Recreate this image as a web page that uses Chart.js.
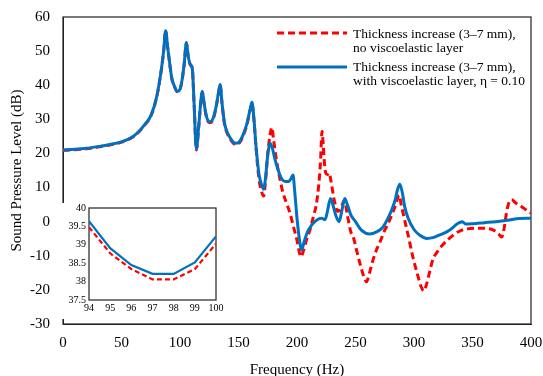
<!DOCTYPE html>
<html><head><meta charset="utf-8">
<script src="https://cdn.jsdelivr.net/npm/chart.js@4.4.0/dist/chart.umd.min.js"></script>
<style>
html,body{margin:0;padding:0;background:#fff;overflow:hidden}
#wrap{position:relative;width:543px;height:376px}
#main{position:absolute;left:0;top:0}
#inset{position:absolute;left:58px;top:203px}
</style></head><body>
<div id="wrap"><canvas id="main" width="543" height="376"></canvas><canvas id="inset" width="168" height="116"></canvas></div>
<script>
// ---- Data ----
const blueFreq = [0,10,20,30,40,50,60,65,70,75,80,84,86,87.7,89.5,91,93,95.5,97.5,99.5,101.5,103.5,105.5,107,109,110.5,112,114,116,118,119,120.5,122.5,125,127,129,131,133,134.3,136,138,140,143,146,148.5,151,154,157,160,161.5,163,165,167.5,170,171.5,173,175,177,179,181,184,187,190,193,195,196.6,198,200,202,204,206,209,213,217,221,224,226,228.6,231,233.5,236,238.5,240.8,243,246,250,255,262,268,273,277,281,284,286,287.9,290,292,295,300,305,311,317,322,328,333,337,341.5,344,350,360,370,380,390,400];
const blueSPL = [21.0,21.2,21.5,22.0,22.6,23.4,25.0,26.5,28.5,31.0,36.5,44.5,50,56.0,51,47,42,39.5,38.2,38.5,41,46,52.5,48.5,46,45,35,21.3,28,36,38.2,35,31,29.3,29.5,31,34,38,40.2,34.5,29,26.5,24.5,23.2,23.0,23.5,25.5,28.5,33,35.0,31,22,14,10.5,9.5,12.5,19.5,23.0,21.5,18.5,15,12.5,11.8,11.8,12.7,13.7,9,1,-5,-8.3,-6,-3,-0.8,0.5,1.0,0.6,3,6.8,4.5,1.5,0.0,3.5,6.8,5,2,0,-2.5,-3.6,-3.0,-1.8,0.5,3.5,6.5,9.5,11.0,8.5,4.5,1.0,-2.3,-4.0,-4.9,-4.6,-3.9,-3.0,-1.8,-0.6,0.0,-0.7,-0.6,-0.3,0.0,0.4,0.9,1.0];

const redFreq = [0,10,20,30,40,50,60,65,70,75,80,84,86,87.7,89.5,91,93,95.5,97.5,99.5,101.5,103.5,105.5,107,109,110.5,112,114,116,118,119,120.5,122.5,125,127,129,131,133,134.3,136,138,140,143,146,148.5,151,154,157,160,161.5,163,165,167.5,170,171.5,173,175,177,178.5,180,182,185,188,191,194,197,200,202,203.5,205.5,208,211,214,216.5,218.5,220,221.4,222.5,223.5,224.5,226,227.5,229,232,235,238,240.5,243,246,248,251,254,257,259.4,262,265,268,271,275,278,281,284,287.3,289,292,295,299,303,306,308.4,311,313.5,316,320,324,329,334,340,348,356,362,368,372,375,377,379,381,383.4,387,392,396,400];
const redSPL = [20.9,21.1,21.4,21.9,22.5,23.3,24.9,26.4,28.4,30.9,36.4,44.4,49.9,55.9,50.9,46.9,41.9,39.4,38.1,38.4,40.9,45.9,52.4,48.4,45.9,44.9,34.9,21.0,27.8,35.9,38.0,34.8,30.8,29.0,29.2,30.8,33.8,37.8,40.0,34.3,28.7,26.2,24.2,22.8,22.6,23.2,25.2,28.2,32.8,34.7,30.5,21.5,12.5,8.5,7.5,11.5,20,25.5,27.6,24,19,13.2,8.5,5.5,2.5,-1.5,-5.5,-9,-10.3,-8.5,-5.5,-2.5,1.5,5,10.5,17,26.5,22,17,14.3,13.8,14.3,12,6,3,4.5,6.2,2,-3,-4.4,-8.5,-12.5,-16,-17.6,-15,-11.2,-8.2,-5.9,-2.5,-0.5,2.0,4.6,7.8,5,0.5,-4,-10.3,-15.5,-19,-20.3,-18,-14.5,-11.2,-8.8,-7.0,-5.3,-3.8,-2.6,-2.0,-1.9,-2.0,-2.5,-3.5,-4.5,-2,2.5,5.5,6.4,5.5,4.4,3.4,2.5];

const insetFreq = [94,95,96,97,98,99,100];
const insetBlue = [39.64,38.91,38.45,38.21,38.21,38.52,39.23];
const insetRed  = [39.48,38.77,38.34,38.06,38.06,38.34,39.03];

const legendRed  = ['Thickness increase (3\u20137 mm),', 'no viscoelastic layer'];
const legendBlue = ['Thickness increase (3\u20137 mm),', 'with viscoelastic layer, \u03b7 = 0.10'];
const xTitle = 'Frequency (Hz)';
const yTitle = 'Sound Pressure Level (dB)';

// ---- Styling ----
const FONT = '"Liberation Serif", "Times New Roman", serif';
const RED = '#FF0000';
const BLUE = '#0070C0';
Chart.defaults.font.family = FONT;
Chart.defaults.color = '#000';

const pts = (xs, ys) => xs.map((x, i) => ({x: x, y: ys[i]}));
const noPad = s => { s.paddingLeft = 0; s.paddingRight = 0; s.paddingTop = 0; s.paddingBottom = 0; };

const whiteBg = {id: 'whiteBg', beforeDraw(c) {
  const ctx = c.ctx; ctx.save(); ctx.fillStyle = '#fff'; ctx.fillRect(0, 0, c.width, c.height); ctx.restore();
}};
const frame = {id: 'frame', beforeDatasetsDraw(c) {
  const a = c.chartArea, ctx = c.ctx;
  ctx.save(); ctx.strokeStyle = '#222'; ctx.lineWidth = 1.2;
  ctx.strokeRect(a.left, a.top, a.right - a.left, a.bottom - a.top);
  ctx.restore();
}};
const legendPlugin = {id: 'customLegend', afterDraw(c) {
  const ctx = c.ctx; ctx.save();
  ctx.lineWidth = 3;
  ctx.strokeStyle = RED; ctx.setLineDash([7, 4]);
  ctx.beginPath(); ctx.moveTo(277, 33); ctx.lineTo(347, 33); ctx.stroke();
  ctx.setLineDash([]); ctx.strokeStyle = BLUE;
  ctx.beginPath(); ctx.moveTo(277, 67); ctx.lineTo(347, 67); ctx.stroke();
  ctx.font = '13.5px ' + FONT; ctx.fillStyle = '#000'; ctx.textBaseline = 'middle'; ctx.textAlign = 'left';
  ctx.fillText(legendRed[0], 353, 34); ctx.fillText(legendRed[1], 353, 48);
  ctx.fillText(legendBlue[0], 353, 67); ctx.fillText(legendBlue[1], 353, 81.5);
  ctx.restore();
}};

new Chart(document.getElementById('main'), {
  type: 'line',
  data: { datasets: [
    { label: legendRed.join(' '), data: pts(redFreq, redSPL), borderColor: RED, borderWidth: 3, borderDash: [7, 4],
      pointRadius: 0, fill: false, cubicInterpolationMode: 'monotone', order: 1 },
    { label: legendBlue.join(' '), data: pts(blueFreq, blueSPL), borderColor: BLUE, borderWidth: 3,
      pointRadius: 0, fill: false, cubicInterpolationMode: 'monotone', order: 0 }
  ]},
  options: {
    responsive: false, animation: false, devicePixelRatio: 1,
    layout: { padding: { left: 0, right: 12, top: 17, bottom: 0 } },
    plugins: { legend: { display: false }, tooltip: { enabled: false } },
    scales: {
      x: { type: 'linear', min: 0, max: 400,
        ticks: { stepSize: 50, padding: 0, font: { size: 15 }, maxRotation: 0 },
        grid: { display: false, drawTicks: true, tickLength: 10 }, border: { display: true, color: '#222' },
        title: { display: true, text: xTitle, font: { size: 15 }, padding: { top: 0, bottom: -3 } },
        afterFit(s) { s.height = 52; noPad(s); } },
      y: { type: 'linear', min: -30, max: 60,
        ticks: { stepSize: 10, padding: 0, font: { size: 15 } },
        grid: { display: false, drawTicks: true, tickLength: 13 }, border: { display: true, color: '#222' },
        title: { display: true, text: yTitle, font: { size: 15 }, padding: { top: 8, bottom: 0 } },
        afterFit(s) { s.width = 63; noPad(s); } }
    }
  },
  plugins: [whiteBg, frame, legendPlugin]
});

new Chart(document.getElementById('inset'), {
  type: 'line',
  data: { datasets: [
    { data: pts(insetFreq, insetRed), borderColor: RED, borderWidth: 2.2, borderDash: [5, 3], pointRadius: 0, fill: false, tension: 0, order: 1 },
    { data: pts(insetFreq, insetBlue), borderColor: BLUE, borderWidth: 2.2, pointRadius: 0, fill: false, tension: 0, order: 0 }
  ]},
  options: {
    responsive: false, animation: false, devicePixelRatio: 1,
    layout: { padding: { left: 0, right: 10, top: 5, bottom: 0 } },
    plugins: { legend: { display: false }, tooltip: { enabled: false } },
    scales: {
      x: { type: 'linear', min: 94, max: 100,
        ticks: { stepSize: 1, padding: 0, font: { size: 10 }, maxRotation: 0 },
        grid: { display: false, drawTicks: true, tickLength: 2 }, border: { display: false },
        afterFit(s) { s.height = 19; noPad(s); } },
      y: { type: 'linear', min: 37.5, max: 40,
        ticks: { stepSize: 0.5, padding: 0, font: { size: 10 }, callback: v => String(+v.toFixed(1)) },
        grid: { display: false, drawTicks: true, tickLength: 3 }, border: { display: false },
        afterFit(s) { s.width = 31; noPad(s); } }
    }
  },
  plugins: [whiteBg, frame]
});
</script>
</body></html>
